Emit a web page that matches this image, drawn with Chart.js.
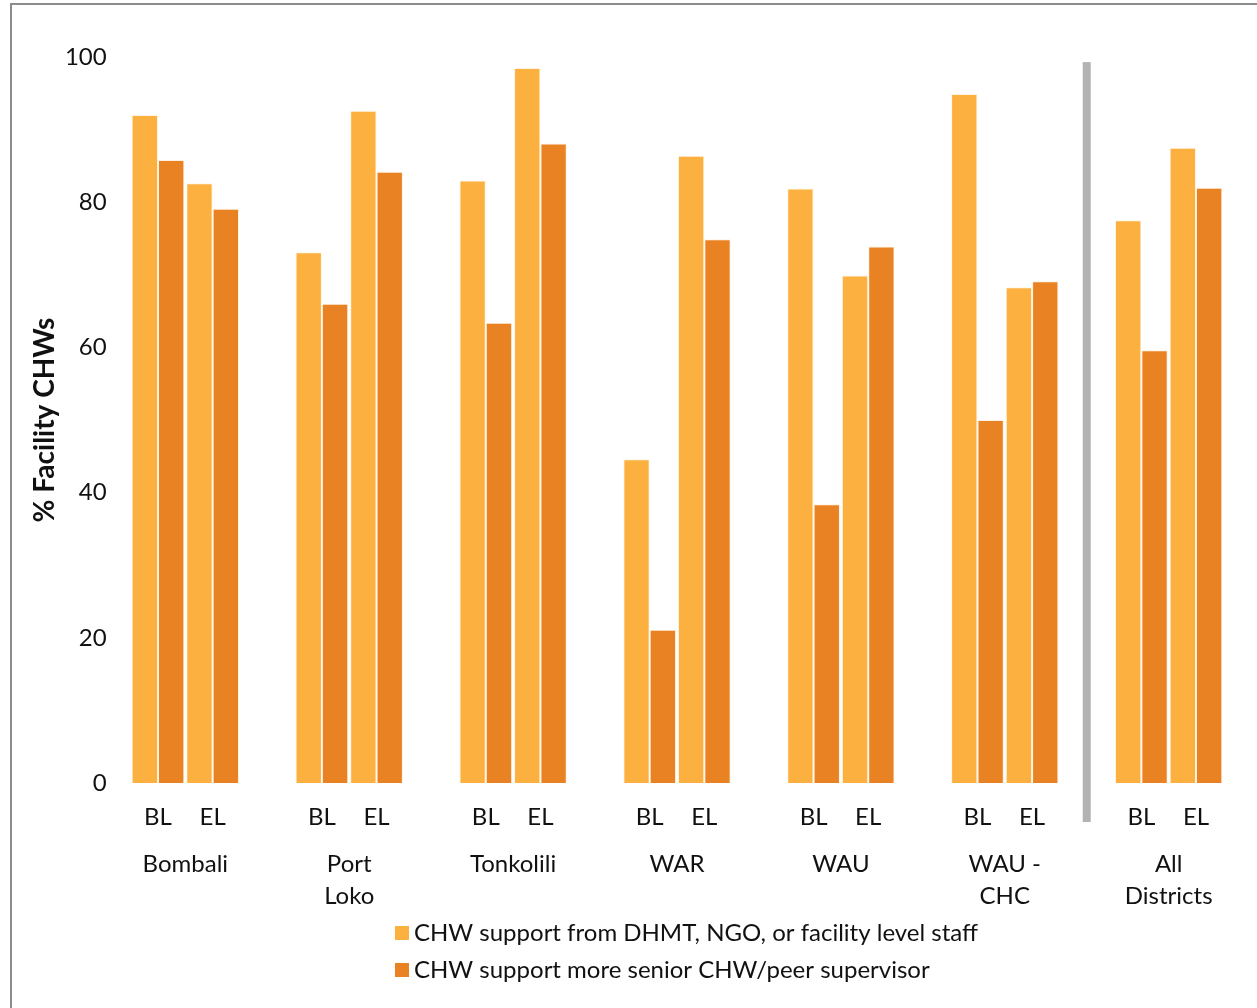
<!DOCTYPE html>
<html>
<head>
<meta charset="utf-8">
<script src="https://cdn.jsdelivr.net/npm/chart.js@4.4.1/dist/chart.umd.min.js"></script>
<style>
  html, body { margin: 0; padding: 0; background: #fff; }
  #wrap { position: relative; width: 1257px; height: 1008px; }
</style>
</head>
<body>
<div id="wrap"><canvas id="chart" width="1257" height="1008"></canvas></div>
<script>
// District groups (multi-line names) and survey rounds
const districts = [['Bombali'], ['Port', 'Loko'], ['Tonkolili'], ['WAR'], ['WAU'], ['WAU -', 'CHC'], ['All', 'Districts']];
const periods = ['BL', 'EL'];

// % of facility CHWs, in order: district BL, district EL, ...
const staffSupport = [92.0, 82.6, 73.1, 92.6, 83.0, 98.5, 44.6, 86.4, 81.9, 69.9, 94.9, 68.3, 77.5, 87.5];
const peerSupport  = [85.8, 79.1, 66.0, 84.2, 63.4, 88.1, 21.1, 74.9, 38.4, 73.9, 50.0, 69.1, 59.6, 82.0];

const yTicks = [0, 20, 40, 60, 80, 100];
const seriesNames = [
  'CHW support from DHMT, NGO, or facility level staff',
  'CHW support more senior CHW/peer supervisor'
];
const seriesColors = ['#FBB040', '#E98222'];

const FONT = 'Lato, "Open Sans", sans-serif';
const INK = '#111';

// Category slots: BL, EL per district with an empty slot between districts
const slotLabels = [];
const staffSlots = [];
const peerSlots = [];
const groupCenters = [];
districts.forEach((d, i) => {
  const start = slotLabels.length;
  periods.forEach((p, j) => {
    slotLabels.push(p);
    staffSlots.push(staffSupport[i * periods.length + j]);
    peerSlots.push(peerSupport[i * periods.length + j]);
  });
  groupCenters.push(start + (periods.length - 1) / 2);
  if (i < districts.length - 1) {
    slotLabels.push('');
    staffSlots.push(null);
    peerSlots.push(null);
  }
});
// divider sits in the empty slot before the "All Districts" group
const dividerSlot = slotLabels.length - periods.length - 1;

const framePlugin = {
  id: 'frame',
  beforeDraw(chart) {
    const { ctx, width, height } = chart;
    ctx.save();
    ctx.fillStyle = '#fff';
    ctx.fillRect(0, 0, width, height);
    ctx.strokeStyle = '#8C8C8C';
    ctx.lineWidth = 2;
    ctx.beginPath();
    ctx.moveTo(11, height);
    ctx.lineTo(11, 4);
    ctx.lineTo(width, 4);
    ctx.stroke();
    ctx.restore();
  }
};

const dividerPlugin = {
  id: 'divider',
  afterDatasetsDraw(chart) {
    const { ctx, chartArea } = chart;
    const x = chart.scales.x.getPixelForValue(dividerSlot);
    const top = chart.scales.y.getPixelForValue(99.3);
    const bottom = chartArea.bottom + 39;
    ctx.save();
    ctx.fillStyle = '#B3B3B3';
    ctx.fillRect(x - 4, top, 8, bottom - top);
    ctx.restore();
  }
};

const legendPlugin = {
  id: 'stackedLegend',
  afterDraw(chart) {
    const { ctx, chartArea } = chart;
    const boxX = 395, textX = 414, box = 14;
    const rows = [chartArea.bottom + 150, chartArea.bottom + 187];
    ctx.save();
    ctx.font = '24px ' + FONT;
    ctx.textBaseline = 'middle';
    ctx.textAlign = 'left';
    seriesNames.forEach((name, i) => {
      ctx.fillStyle = seriesColors[i];
      ctx.fillRect(boxX, rows[i] - box / 2, box, box);
      ctx.fillStyle = INK;
      ctx.fillText(name, textX, rows[i]);
    });
    ctx.restore();
  }
};

new Chart(document.getElementById('chart'), {
  type: 'bar',
  data: {
    labels: slotLabels,
    datasets: [
      { label: seriesNames[0], data: staffSlots, backgroundColor: seriesColors[0],
        borderColor: 'rgba(255,235,200,0.55)', borderWidth: 1, xAxisID: 'x' },
      { label: seriesNames[1], data: peerSlots, backgroundColor: seriesColors[1],
        borderColor: 'rgba(255,225,190,0.45)', borderWidth: 1, xAxisID: 'x' }
    ]
  },
  options: {
    responsive: false,
    animation: false,
    devicePixelRatio: 1,
    layout: { padding: { left: 12, top: 57, right: 33.7, bottom: 87 } },
    datasets: { bar: { barPercentage: 1, categoryPercentage: 0.965, skipNull: false } },
    plugins: { legend: { display: false }, tooltip: { enabled: false } },
    scales: {
      x: {
        type: 'category',
        position: 'bottom',
        grid: { display: false, drawTicks: false },
        border: { display: false },
        ticks: { font: { family: FONT, size: 24 }, color: INK, padding: 20, maxRotation: 0, autoSkip: false },
        afterFit(s) { s.height = 48; }
      },
      groups: {
        type: 'linear',
        position: 'bottom',
        offset: false,
        bounds: 'data',
        min: -0.5,
        max: slotLabels.length - 0.5,
        grid: { display: false, drawTicks: false, offset: false },
        border: { display: false },
        afterBuildTicks(s) { s.ticks = groupCenters.map(v => ({ value: v })); },
        ticks: {
          font: { family: FONT, size: 24, lineHeight: 1.3 }, color: INK, padding: 18,
          maxRotation: 0, autoSkip: false,
          callback: (v, i) => districts[i]
        },
        afterFit(s) { s.height = 90; }
      },
      y: {
        min: 0,
        max: 100,
        grid: { display: false, drawTicks: false },
        border: { display: false },
        afterBuildTicks(s) { s.ticks = yTicks.map(v => ({ value: v })); },
        ticks: { font: { family: FONT, size: 24 }, color: INK, padding: 24 },
        title: {
          display: true, text: '% Facility CHWs', color: INK,
          font: { family: FONT, size: 28, weight: 'bold' }, padding: { top: 16, bottom: 0 }
        },
        afterFit(s) { s.width = 118.7; }
      }
    }
  },
  plugins: [framePlugin, dividerPlugin, legendPlugin]
});
</script>
</body>
</html>
